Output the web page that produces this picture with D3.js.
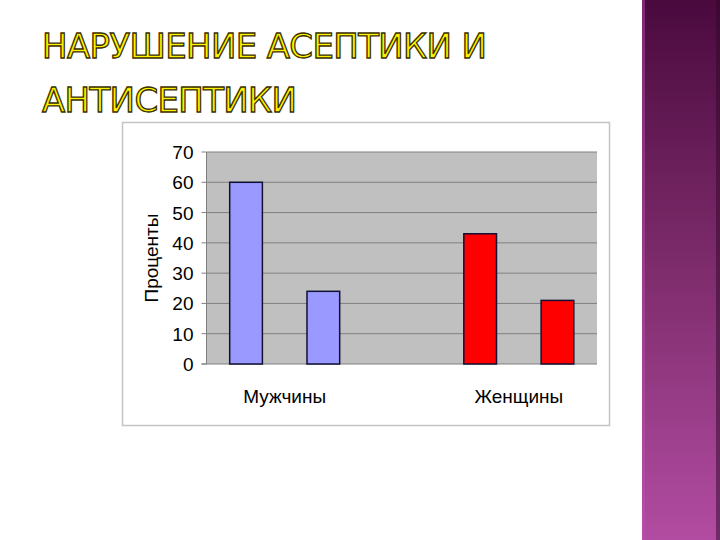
<!DOCTYPE html>
<html>
<head>
<meta charset="utf-8">
<script src="https://cdn.jsdelivr.net/npm/d3@7"></script>
<style>
  body { margin: 0; background: #fff; overflow: hidden; }
  svg { display: block; }
</style>
</head>
<body>
<div id="slide"></div>
<script>
// Categories and values
const categories = ["Мужчины", "Женщины"];
const seriesFirst = [60, 43];
const seriesSecond = [24, 21];
const categoryColors = ["#9999FF", "#FF0000"];
const yTicks = [0, 10, 20, 30, 40, 50, 60, 70];
const titleLines = ["НАРУШЕНИЕ АСЕПТИКИ И", "АНТИСЕПТИКИ"];
const yTitle = "Проценты";

const W = 720, H = 540;
const labelFont = "'Liberation Sans', Arial, sans-serif";

const svg = d3.select("#slide")
    .append("svg")
    .attr("width", W)
    .attr("height", H);

// --- purple side band ---
const defs = svg.append("defs");
const grad = defs.append("linearGradient")
    .attr("id", "band")
    .attr("x1", 0).attr("y1", 0).attr("x2", 0).attr("y2", 1);
grad.append("stop").attr("offset", "0%").attr("stop-color", "#4a0a3e");
grad.append("stop").attr("offset", "50%").attr("stop-color", "#7e2c6c");
grad.append("stop").attr("offset", "100%").attr("stop-color", "#b24ca2");

svg.append("rect")
    .attr("x", 642).attr("y", 0)
    .attr("width", 78).attr("height", H)
    .attr("fill", "url(#band)");
svg.append("rect")
    .attr("x", 642).attr("y", 0)
    .attr("width", 3).attr("height", H)
    .attr("fill", "#c050b0").attr("opacity", 0.45);
svg.append("rect")
    .attr("x", 716).attr("y", 0)
    .attr("width", 4).attr("height", H)
    .attr("fill", "#300828").attr("opacity", 0.5);

// --- title (outlined yellow letters), spread out with letter-spacing ---
const titleLen = [445, 255];
svg.selectAll("text.title")
    .data(titleLines)
    .join("text")
    .attr("class", "title")
    .attr("x", 42)
    .attr("y", (d, i) => 58 + i * 54)
    .attr("fill", "#FFF200")
    .attr("stroke", "#3a3000")
    .attr("stroke-width", 1.3)
    .style("font-family", "'DejaVu Sans', sans-serif")
    .style("font-size", "34px")
    .text(d => d)
    .each(function(d, i) {
        const natural = this.getComputedTextLength();
        const gap = (titleLen[i] - natural) / (d.length - 1);
        d3.select(this).style("letter-spacing", `${gap}px`);
    });

// --- chart frame ---
svg.append("rect")
    .attr("x", 122.5).attr("y", 122.5)
    .attr("width", 487).attr("height", 303)
    .attr("fill", "#fff")
    .attr("stroke", "#c4c4c4")
    .attr("stroke-width", 1.5);

// plot area bounds (absolute pixels)
const plot = { left: 206.5, right: 597, top: 152, bottom: 364 };

svg.append("rect")
    .attr("x", plot.left).attr("y", plot.top)
    .attr("width", plot.right - plot.left)
    .attr("height", plot.bottom - plot.top)
    .attr("fill", "#C0C0C0");

// --- scales ---
const y = d3.scaleLinear()
    .domain([0, 70])
    .range([plot.bottom, plot.top]);

const x0 = d3.scalePoint()
    .domain(categories)
    .range([plot.left, plot.right])
    .padding(0.334);

const x1 = d3.scaleBand()
    .domain([0, 1])
    .range([-55, 55])
    .paddingInner(0.577);

// gridlines
svg.append("g")
    .selectAll("line")
    .data(yTicks.filter(t => t > 0))
    .join("line")
    .attr("x1", plot.left).attr("x2", plot.right)
    .attr("y1", d => y(d)).attr("y2", d => y(d))
    .attr("stroke", "#808080")
    .attr("stroke-width", 1);

// y axis line + tick marks
svg.append("line")
    .attr("x1", plot.left).attr("x2", plot.left)
    .attr("y1", plot.top).attr("y2", plot.bottom)
    .attr("stroke", "#808080");
svg.append("g")
    .selectAll("line")
    .data(yTicks)
    .join("line")
    .attr("x1", plot.left - 5).attr("x2", plot.left)
    .attr("y1", d => y(d)).attr("y2", d => y(d))
    .attr("stroke", "#808080");

// tick labels
svg.append("g")
    .selectAll("text")
    .data(yTicks)
    .join("text")
    .attr("x", plot.left - 13)
    .attr("y", d => y(d) + 7)
    .attr("text-anchor", "end")
    .style("font-family", labelFont)
    .style("font-size", "19px")
    .text(d => d);

// bottom axis line
svg.append("line")
    .attr("x1", plot.left - 5).attr("x2", plot.right)
    .attr("y1", plot.bottom).attr("y2", plot.bottom)
    .attr("stroke", "#808080");

// --- bars ---
const bars = [];
categories.forEach((c, i) => {
    [seriesFirst[i], seriesSecond[i]].forEach((v, k) => bars.push({ cat: c, i, k, v }));
});

svg.append("g")
    .selectAll("rect")
    .data(bars)
    .join("rect")
    .attr("x", d => x0(d.cat) + x1(d.k))
    .attr("y", d => y(d.v))
    .attr("width", x1.bandwidth())
    .attr("height", d => plot.bottom - y(d.v))
    .attr("fill", d => categoryColors[d.i])
    .attr("stroke", "#111133")
    .attr("stroke-width", 1.5);

// category labels
svg.selectAll("text.cat-label")
    .data(categories)
    .join("text")
    .attr("class", "cat-label")
    .attr("x", d => x0(d))
    .attr("y", plot.bottom + 39)
    .attr("text-anchor", "middle")
    .style("font-family", labelFont)
    .style("font-size", "19px")
    .text(d => d);

// y title
const ty = (plot.top + plot.bottom) / 2;
svg.append("text")
    .attr("transform", `translate(${plot.left - 49},${ty}) rotate(-90)`)
    .attr("text-anchor", "middle")
    .style("font-family", labelFont)
    .style("font-size", "19px")
    .text(yTitle);
</script>
</body>
</html>
